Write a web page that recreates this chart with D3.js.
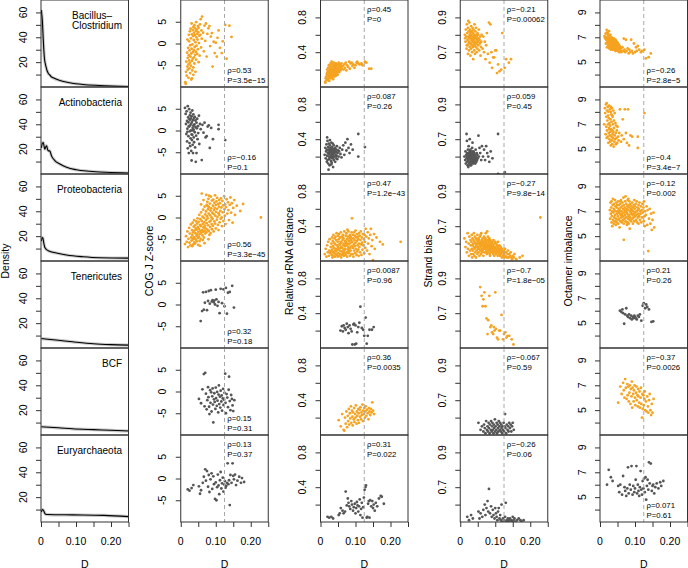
<!DOCTYPE html>
<html><head><meta charset="utf-8">
<script src="https://cdn.jsdelivr.net/npm/d3@7/dist/d3.min.js"></script>
<style>body{margin:0;background:#fff} text{font-family:"Liberation Sans",Arial,Helvetica,sans-serif;fill:#000}</style>
</head><body><svg id="c" width="688" height="568"></svg>
<script>
// ---------------- DATA ----------------
const groups = ["Bacillus–|Clostridium","Actinobacteria","Proteobacteria","Tenericutes","BCF","Euryarchaeota"];
const measures = ["COG J Z-score","Relative rRNA distance","Strand bias","Octamer imbalance"];
const dTicks = [0,0.05,0.10,0.15,0.20,0.25];
const dTickLabels = ["0","","0.10","","0.20",""];
const densityTicks = [10,20,30,40,50,60];
const densityTickLabels = ["","20","","40","","60"];
const measureDomains = [[-10,10],[0,1],[0.5,1.0],[3,10]];
const measureTicks = [[-5,0,5],[0.2,0.4,0.6,0.8],[0.6,0.7,0.8,0.9],[4,5,6,7,8,9]];
const measureTickLabels = [["-5","0","5"],["","0.4","","0.8"],["","0.7","","0.9"],["","5","","7","","9"]];
const dThreshold = 0.125;

// density of D per group: [D, density]
const densityBacillus = [[0.001,62],[0.002,59],[0.0037,54],[0.0065,38],[0.0093,24.6],[0.014,16.6],[0.021,10.8],[0.0255,9.6],[0.028,8.6],[0.035,7.4],[0.054,5.2],[0.082,3.4],[0.12,2.0],[0.167,1.2],[0.25,0.3]];
const densityActino = [[0.001,21],[0.003,24],[0.0065,25.4],[0.009,22],[0.011,20],[0.014,22],[0.016,22.6],[0.019,19.5],[0.021,18.6],[0.025,18.6],[0.030,14.6],[0.040,10.6],[0.054,8],[0.073,5.4],[0.101,3.4],[0.139,2.2],[0.186,1.4],[0.25,0.8]];
const densityProteo = [[0.001,16],[0.003,18.5],[0.005,18.8],[0.0076,15],[0.011,10.9],[0.021,8.2],[0.044,6.4],[0.073,4.8],[0.12,3.4],[0.167,2.6],[0.25,2.3]];
const densityTeneri = [[0.001,7.6],[0.05,6.2],[0.09,5],[0.15,3.4],[0.2,2.7],[0.25,2.3]];
const densityBCF = [[0.001,6.6],[0.05,5.8],[0.09,5.0],[0.15,4.3],[0.2,3.8],[0.25,3.2]];
const densityEury = [[0.001,8.0],[0.004,10.0],[0.007,9.4],[0.012,6.5],[0.02,6.0],[0.09,5.7],[0.18,5.3],[0.25,4.3]];

// genomes per group: [D, COG J Z-score, rRNA distance, strand bias, octamer imbalance]
const genomesBacillus = [
[0.013,-8.9,0.06,0.80,7.1],[0.015,-6.5,0.10,0.76,6.9],[0.016,-4.2,0.12,0.83,7.3],[0.017,-7.4,0.08,0.79,6.5],[0.018,-2.1,0.15,0.72,6.8],
[0.019,-5.3,0.20,0.86,7.0],[0.020,-3.3,0.13,0.74,6.2],[0.020,-6.0,0.17,0.81,7.4],[0.021,-1.0,0.09,0.77,6.6],[0.022,-4.8,0.22,0.69,6.9],
[0.022,-7.9,0.14,0.84,7.2],[0.023,-2.7,0.18,0.79,6.4],[0.024,0.5,0.11,0.75,6.7],[0.024,-3.9,0.25,0.82,7.0],[0.025,-5.7,0.16,0.71,6.3],
[0.025,-1.6,0.07,0.78,6.8],[0.026,2.8,0.19,0.87,7.5],[0.026,-4.4,0.13,0.76,6.1],[0.027,-6.8,0.21,0.80,6.6],[0.027,-0.4,0.15,0.73,7.1],
[0.028,3.4,0.24,0.83,6.9],[0.028,-3.0,0.10,0.78,6.5],[0.029,-5.1,0.18,0.68,6.8],[0.029,1.2,0.27,0.81,6.2],[0.030,-2.3,0.14,0.75,7.2],
[0.030,-8.3,0.20,0.79,6.4],[0.031,4.6,0.12,0.85,6.7],[0.031,-1.2,0.23,0.72,6.0],[0.032,-4.0,0.16,0.77,6.9],[0.032,2.1,0.29,0.80,6.3],
[0.033,-6.2,0.11,0.74,6.6],[0.033,-0.2,0.19,0.82,7.0],[0.034,3.1,0.15,0.70,6.5],[0.034,-3.5,0.26,0.78,6.1],[0.035,-2.0,0.13,0.84,6.8],
[0.035,1.7,0.21,0.76,6.4],[0.036,-5.5,0.17,0.79,6.7],[0.036,3.8,0.09,0.73,6.2],[0.037,-1.5,0.24,0.81,6.9],[0.037,0.8,0.18,0.66,6.0],
[0.038,-3.2,0.14,0.77,6.6],[0.038,2.5,0.28,0.83,6.3],[0.039,-4.6,0.20,0.75,6.8],[0.039,4.2,0.16,0.80,6.1],[0.040,-0.8,0.22,0.71,6.5],
[0.040,1.9,0.12,0.78,6.9],[0.041,-2.6,0.25,0.86,6.2],[0.041,3.5,0.19,0.74,6.7],[0.042,-6.5,0.15,0.79,6.4],[0.042,0.3,0.23,0.69,6.0],
[0.043,2.9,0.17,0.82,6.6],[0.043,-1.9,0.21,0.76,6.3],[0.044,4.9,0.27,0.80,6.8],[0.044,-3.7,0.13,0.73,5.9],[0.045,1.4,0.18,0.78,6.5],
[0.045,-0.5,0.24,0.84,6.2],[0.046,3.2,0.20,0.75,6.7],[0.047,-2.4,0.16,0.70,6.1],[0.047,2.2,0.26,0.79,6.4],[0.048,0.9,0.19,0.77,6.0],
[0.049,4.0,0.22,0.81,6.6],[0.049,-1.3,0.14,0.72,6.3],[0.050,2.6,0.25,0.76,5.9],[0.051,-4.3,0.18,0.80,6.5],[0.051,3.6,0.21,0.74,6.2],
[0.052,0.1,0.28,0.78,6.0],[0.053,1.8,0.17,0.83,6.4],[0.054,-2.8,0.23,0.71,6.1],[0.055,4.4,0.20,0.77,5.8],[0.056,2.0,0.26,0.75,6.3],
[0.057,5.6,0.19,0.79,6.0],[0.058,-0.9,0.24,0.68,6.2],[0.059,3.0,0.22,0.73,5.9],[0.060,1.1,0.27,0.76,6.1],[0.061,6.2,0.21,0.80,5.8],
[0.014,-9.3,0.05,0.78,7.0],[0.032,-8.0,0.12,0.82,6.6],[0.036,-7.2,0.15,0.77,6.4],[0.019,0.9,0.08,0.74,7.6],[0.023,2.0,0.11,0.88,7.3],
[0.064,2.5,0.24,0.72,6.2],[0.066,-1.8,0.20,0.79,5.9],[0.068,4.1,0.26,0.70,6.9],[0.070,0.6,0.22,0.76,6.0],[0.072,4.6,0.28,0.66,5.8],
[0.074,-3.0,0.19,0.74,6.8],[0.076,2.2,0.25,0.81,5.9],[0.079,3.5,0.23,0.69,6.1],[0.082,4.0,0.29,0.87,5.7],[0.084,-0.6,0.21,0.64,6.0],
[0.086,1.6,0.27,0.86,5.8],[0.089,2.4,0.28,0.70,6.8],[0.091,-5.3,0.24,0.61,5.9],[0.094,0.4,0.26,0.67,5.7],[0.097,-2.2,0.22,0.67,6.5],
[0.100,0.2,0.25,0.71,5.8],[0.103,-3.0,0.28,0.71,6.2],[0.105,1.3,0.29,0.58,5.9],[0.108,3.0,0.27,0.63,6.3],[0.112,-1.0,0.26,0.59,6.0],
[0.117,-2.2,0.27,0.60,5.8],[0.120,0.5,0.25,0.81,5.9],[0.127,4.3,0.29,0.61,6.0],[0.131,-3.5,0.28,0.66,5.3],[0.139,4.1,0.21,0.64,5.4],
[0.145,1.5,0.21,0.66,5.7]];

const genomesActino = [
[0.012,5.2,0.22,0.60,7.0],[0.014,3.8,0.30,0.58,8.3],[0.015,1.5,0.18,0.63,7.9],[0.016,-0.8,0.26,0.56,6.2],[0.017,4.4,0.34,0.61,8.6],
[0.018,2.2,0.14,0.59,7.6],[0.018,-2.5,0.28,0.73,6.8],[0.019,0.4,0.21,0.57,5.9],[0.020,5.6,0.38,0.62,8.1],[0.020,-4.1,0.16,0.60,6.5],
[0.021,3.0,0.24,0.55,7.3],[0.022,-1.3,0.31,0.64,8.4],[0.022,1.9,0.12,0.58,6.0],[0.023,-5.2,0.27,0.61,7.7],[0.024,4.9,0.20,0.59,5.5],
[0.024,0.9,0.35,0.66,8.0],[0.025,-2.9,0.23,0.56,6.3],[0.025,2.6,0.17,0.62,7.5],[0.026,-0.2,0.29,0.60,6.7],[0.026,3.5,0.10,0.57,8.5],
[0.027,-3.6,0.25,0.63,5.8],[0.027,1.2,0.33,0.59,7.1],[0.028,4.1,0.19,0.61,6.1],[0.028,-1.8,0.27,0.55,8.2],[0.029,0.0,0.22,0.64,6.9],
[0.029,2.8,0.30,0.58,5.6],[0.030,-4.7,0.15,0.60,7.4],[0.030,1.6,0.26,0.62,6.4],[0.031,3.3,0.36,0.57,8.0],[0.031,-0.9,0.20,0.59,5.3],
[0.032,-2.2,0.28,0.61,7.8],[0.032,2.0,0.13,0.56,6.6],[0.033,4.6,0.24,0.63,6.0],[0.033,-1.0,0.31,0.60,7.2],[0.034,0.6,0.18,0.58,5.7],
[0.034,-3.3,0.25,0.65,8.3],[0.035,2.4,0.21,0.57,6.5],[0.035,-5.2,0.29,0.59,5.4],[0.036,1.1,0.08,0.62,7.6],[0.036,3.7,0.23,0.60,6.2],
[0.037,-1.6,0.27,0.56,7.0],[0.037,0.2,0.19,0.61,5.9],[0.038,2.9,0.33,0.58,8.1],[0.038,-2.7,0.16,0.63,6.4],[0.039,1.4,0.24,0.59,5.2],
[0.040,-0.4,0.28,0.57,7.3],[0.040,3.1,0.20,0.62,6.7],[0.041,-3.9,0.26,0.60,5.6],[0.042,0.8,0.14,0.58,7.9],[0.042,2.3,0.30,0.61,6.1],
[0.043,-7.2,0.22,0.56,5.8],[0.044,-1.2,0.25,0.64,7.1],[0.045,1.8,0.18,0.59,6.3],[0.045,-5.2,0.28,0.60,5.4],[0.046,0.5,0.21,0.57,6.9],
[0.047,2.7,0.32,0.62,5.9],[0.048,-2.0,0.17,0.58,6.5],[0.049,1.0,0.24,0.61,5.5],[0.050,-0.6,0.27,0.59,6.8],[0.052,3.4,0.20,0.72,6.0],
[0.053,-3.1,0.26,0.60,5.7],[0.055,1.5,0.30,0.65,6.3],[0.057,0.3,0.23,0.62,8.2],[0.060,-6.8,0.19,0.58,5.6],[0.062,1.3,0.28,0.66,6.1],
[0.065,-0.5,0.33,0.60,7.4],[0.068,1.8,0.22,0.64,5.8],[0.071,-1.6,0.36,0.58,8.2],[0.074,-1.3,0.27,0.66,6.3],[0.077,0.9,0.40,0.62,5.5],
[0.080,1.2,0.30,0.60,8.2],[0.083,-4.0,0.24,0.57,5.3],[0.087,0.6,0.34,0.63,6.1],[0.092,-2.0,0.28,0.59,6.0],[0.108,1.3,0.46,0.73,6.0],
[0.108,0.3,0.20,0.50,5.1],[0.127,-2.2,0.31,0.51,7.9],[0.019,-0.3,0.42,0.69,8.7],[0.023,1.0,0.05,0.54,7.0],[0.027,2.5,0.39,0.70,6.6],
[0.031,-6.9,0.11,0.55,8.4],[0.035,0.0,0.35,0.68,7.7]];

const genomesProteo = [
[0.012,-6.1,0.08,0.63,null],[0.015,-4.3,0.14,0.58,null],[0.017,-5.6,0.05,0.61,null],[0.019,-3.2,0.18,0.55,null],[0.021,-6.8,0.10,0.66,null],
[0.022,-4.9,0.22,0.57,null],[0.024,-2.4,0.06,0.60,null],[0.025,-5.8,0.12,0.53,null],[0.026,-3.7,0.25,0.64,null],[0.028,-6.4,0.09,0.56,7.1],
[0.029,-1.6,0.16,0.62,6.4],[0.030,-4.6,0.11,0.59,7.7],
[0.031,-5.3,0.20,0.54,6.8],[0.032,-2.9,0.07,0.61,7.3],[0.033,-6.6,0.27,0.57,6.1],[0.033,-4.0,0.13,0.65,7.8],[0.034,-1.2,0.04,0.52,6.6],
[0.035,-5.0,0.17,0.59,7.0],[0.035,-3.4,0.23,0.63,5.8],[0.036,-6.2,0.10,0.56,7.5],[0.037,-2.1,0.30,0.60,6.3],[0.037,-4.5,0.06,0.54,8.0],
[0.038,-0.6,0.15,0.62,6.9],[0.039,-5.7,0.21,0.58,7.2],[0.039,-3.0,0.09,0.66,6.0],[0.040,-4.8,0.26,0.53,7.6],[0.041,-1.8,0.12,0.61,6.5],
[0.041,-6.0,0.05,0.57,7.1],[0.042,-3.6,0.19,0.64,6.2],[0.043,-2.5,0.28,0.55,7.9],[0.043,-5.1,0.08,0.60,6.7],[0.044,-0.9,0.14,0.58,7.4],
[0.045,-4.2,0.24,0.63,5.9],[0.045,-2.8,0.11,0.52,7.0],[0.046,-5.5,0.32,0.59,6.4],[0.047,-1.4,0.07,0.56,7.7],[0.047,-3.9,0.18,0.62,6.1],
[0.048,-0.2,0.13,0.60,7.3],[0.049,-4.7,0.22,0.54,6.8],[0.049,-2.2,0.05,0.65,7.5],[0.050,-3.3,0.16,0.57,6.3],[0.050,-6.3,0.29,0.61,7.0],
[0.051,-1.0,0.09,0.58,6.6],[0.052,-4.4,0.25,0.63,7.8],[0.052,-2.6,0.14,0.55,6.0],[0.053,0.6,0.31,0.60,7.2],[0.054,-3.8,0.06,0.57,6.9],
[0.054,-5.4,0.19,0.62,7.5],[0.055,-1.7,0.12,0.53,6.4],[0.056,-0.4,0.27,0.59,7.1],[0.056,-3.1,0.08,0.64,5.7],[0.057,-4.9,0.22,0.56,6.8],
[0.058,1.2,0.16,0.61,7.6],[0.058,-2.0,0.33,0.58,6.2],[0.059,-3.5,0.04,0.54,7.3],[0.060,5.5,0.21,0.66,6.7],[0.060,-0.8,0.11,0.60,7.9],
[0.061,-2.9,0.28,0.57,6.5],[0.062,-4.1,0.15,0.62,7.0],[0.062,0.2,0.07,0.55,6.1],[0.063,-1.5,0.24,0.59,7.4],[0.064,-3.3,0.18,0.63,6.8],
[0.064,1.8,0.30,0.56,7.7],[0.065,-2.3,0.10,0.60,6.3],[0.066,-0.1,0.13,0.58,7.2],[0.066,-4.6,0.26,0.53,6.6],[0.067,-1.1,0.06,0.61,8.1],
[0.068,-3.0,0.20,0.57,6.0],[0.068,2.5,0.34,0.64,7.5],[0.069,-1.9,0.09,0.55,6.9],[0.070,0.7,0.17,0.59,7.1],[0.070,-3.7,0.23,0.62,6.4],
[0.068,-5.9,0.12,0.58,4.7],[0.055,-6.5,0.19,0.60,7.0],[0.063,-5.2,0.27,0.56,6.2],[0.058,3.0,0.15,0.65,7.8],[0.065,4.0,0.08,0.61,6.6],
[0.071,-2.5,0.14,0.57,7.3],[0.072,1.4,0.29,0.60,6.7],[0.072,-0.6,0.07,0.63,7.8],[0.073,-3.4,0.22,0.55,6.2],[0.074,2.9,0.18,0.58,7.0],
[0.074,-1.3,0.32,0.61,6.5],[0.075,0.3,0.10,0.56,7.6],[0.076,-2.8,0.25,0.59,6.9],[0.076,3.6,0.05,0.54,7.2],[0.077,-0.2,0.20,0.62,6.1],
[0.078,1.9,0.13,0.57,7.4],[0.078,-1.8,0.28,0.60,6.8],[0.079,4.3,0.16,0.64,7.9],[0.080,-3.1,0.09,0.55,6.4],[0.080,0.9,0.34,0.58,7.1],
[0.081,2.4,0.23,0.61,6.6],[0.082,-1.0,0.11,0.56,7.5],[0.082,-4.0,0.19,0.59,6.0],[0.083,3.2,0.26,0.63,7.3],[0.084,0.5,0.06,0.57,6.7],
[0.084,-2.2,0.30,0.54,7.8],[0.085,1.6,0.15,0.60,6.3],[0.086,4.8,0.21,0.58,7.0],[0.086,-0.7,0.12,0.62,6.5],[0.087,2.1,0.27,0.55,7.6],
[0.088,-1.5,0.08,0.59,6.9],[0.088,0.0,0.24,0.57,7.2],[0.089,3.9,0.17,0.61,6.2],[0.089,-2.7,0.33,0.56,7.4],[0.090,1.1,0.49,0.60,6.8],
[0.073,5.2,0.20,0.66,8.2],[0.079,-5.0,0.10,0.58,6.1],[0.085,-3.6,0.28,0.53,5.6],[0.081,5.0,0.14,0.62,8.0],[0.077,2.6,0.36,0.67,5.9],
[0.091,-0.3,0.22,0.58,7.1],[0.092,2.7,0.08,0.55,6.4],[0.092,-1.9,0.30,0.61,7.7],[0.093,4.1,0.15,0.57,6.7],[0.094,0.8,0.26,0.54,7.3],
[0.094,-3.2,0.05,0.59,6.0],[0.095,1.7,0.19,0.62,7.0],[0.096,3.4,0.33,0.56,6.5],[0.096,-0.9,0.12,0.58,7.5],[0.097,2.2,0.24,0.53,6.8],
[0.098,5.1,0.17,0.60,7.9],[0.098,-1.4,0.29,0.57,6.2],[0.099,0.4,0.09,0.55,7.2],[0.100,2.9,0.21,0.61,6.6],[0.100,-2.5,0.35,0.56,7.4],
[0.101,1.3,0.14,0.58,6.9],[0.102,3.7,0.27,0.54,7.6],[0.103,-0.5,0.07,0.60,6.3],[0.104,2.0,0.23,0.57,7.0],[0.104,4.5,0.31,0.55,6.7],
[0.105,0.1,0.11,0.59,7.8],[0.106,-1.7,0.18,0.56,6.1],[0.107,3.1,0.28,0.53,7.3],[0.108,1.0,0.13,0.58,6.5],[0.108,-2.9,0.25,0.61,7.1],
[0.109,2.5,0.06,0.55,6.8],[0.110,4.0,0.20,0.57,7.5],[0.110,0.6,0.32,0.54,6.0],
[0.111,-1.1,0.16,0.56,7.2],[0.112,3.3,0.29,0.59,6.6],[0.113,1.5,0.10,0.53,7.7],[0.114,-0.3,0.24,0.57,6.3],[0.115,4.4,0.34,0.55,7.0],
[0.116,2.3,0.19,0.58,6.8],[0.117,0.0,0.07,0.54,7.4],[0.118,-2.0,0.27,0.56,6.1],[0.119,3.8,0.21,0.52,7.1],[0.120,1.2,0.13,0.57,6.5],
[0.121,2.8,0.31,0.55,7.6],[0.122,-0.8,0.18,0.53,6.9],[0.124,4.9,0.25,0.56,7.3],[0.125,1.9,0.09,0.54,6.2],[0.126,0.4,0.30,0.52,7.8],
[0.127,3.0,0.22,0.55,6.6],[0.128,-1.5,0.15,0.57,5.8],[0.129,2.4,0.37,0.53,7.0],
[0.131,4.2,0.28,0.55,6.7],[0.133,0.9,0.12,0.52,7.4],[0.135,3.5,0.33,0.54,5.9],[0.136,1.7,0.20,0.56,7.1],[0.138,-0.6,0.26,0.52,3.8],
[0.140,2.9,0.08,0.54,6.4],[0.142,4.6,0.30,0.53,7.2],[0.144,1.1,0.37,0.55,6.0],[0.146,3.3,0.17,0.52,6.8],[0.148,-1.2,0.24,0.51,5.5],
[0.150,2.2,0.01,0.53,6.3],[0.153,4.0,0.31,0.52,6.9],[0.155,0.6,0.14,0.54,5.7],[0.160,2.7,0.27,0.51,null],[0.170,1.5,0.22,0.52,null],
[0.178,3.1,0.19,0.53,null],[0.229,0.0,0.22,0.75,null]];

const genomesTeneri = [
[0.057,-3.8,0.20,0.85,6.0],[0.061,-1.5,0.25,0.80,5.9],[0.064,2.8,0.19,0.74,6.1],[0.066,-1.2,0.26,0.78,5.8],[0.069,0.4,0.23,0.82,4.95],
[0.072,2.9,0.21,0.74,5.7],[0.075,-1.3,0.28,0.67,6.2],[0.078,0.8,0.24,0.58,5.6],[0.080,3.1,0.17,0.66,5.5],[0.083,0.2,0.26,0.80,5.7],
[0.086,3.3,0.22,0.62,5.4],[0.089,0.7,0.19,0.63,5.6],[0.091,1.0,0.04,0.59,5.3],[0.094,0.5,0.27,0.58,5.5],[0.096,0.9,0.28,0.62,5.4],
[0.098,0.0,0.04,0.60,5.6],[0.100,3.4,0.26,0.82,5.5],[0.102,1.2,0.05,0.61,5.4],[0.105,-0.3,0.18,0.56,5.3],[0.108,0.6,0.24,0.55,5.6],
[0.111,-2.0,0.29,0.60,5.5],[0.114,3.6,0.475,0.60,5.7],[0.118,0.3,0.23,0.69,5.2],[0.122,3.5,0.21,0.55,6.4],[0.125,-0.4,0.14,0.58,6.6],
[0.129,3.8,0.35,0.59,6.2],[0.132,-2.1,0.05,0.56,6.5],[0.135,2.7,0.14,0.57,6.3],[0.140,2.9,0.21,0.57,6.1],[0.147,4.3,0.21,0.55,5.1],
[0.152,-0.7,0.24,0.52,5.15]];

const genomesBCF = [
[0.052,-1.7,0.17,0.57,5.6],[0.058,-2.7,0.10,0.53,6.9],[0.062,0.5,0.24,0.55,6.3],[0.066,4.0,0.06,0.52,7.2],[0.068,-3.4,0.05,0.56,6.6],
[0.070,4.3,0.20,0.54,6.0],[0.072,-0.5,0.13,0.51,7.5],[0.074,-4.1,0.27,0.58,6.8],[0.076,-2.0,0.09,0.53,5.9],[0.078,1.0,0.22,0.55,7.1],
[0.079,-1.3,0.16,0.52,6.2],[0.081,-3.5,0.30,0.57,6.9],[0.082,-5.2,0.12,0.54,5.7],[0.084,0.3,0.25,0.51,6.4],[0.085,-2.6,0.19,0.56,7.0],
[0.087,-0.2,0.33,0.53,5.5],[0.088,-4.6,0.14,0.58,6.7],[0.090,-1.1,0.28,0.52,6.1],[0.091,0.7,0.21,0.55,7.3],[0.092,-3.0,0.11,0.57,5.2],
[0.093,-7.1,0.26,0.53,6.8],[0.095,-1.8,0.18,0.51,6.3],[0.096,-0.4,0.31,0.56,5.7],[0.097,-2.4,0.15,0.54,6.6],[0.099,-4.0,0.24,0.59,7.0],
[0.100,0.9,0.20,0.52,6.0],[0.101,-1.5,0.34,0.55,5.4],[0.103,-3.3,0.13,0.53,6.4],[0.104,-0.1,0.27,0.57,6.9],[0.105,-2.1,0.22,0.51,5.8],
[0.107,-4.8,0.17,0.56,6.2],[0.108,-0.7,0.30,0.54,5.3],[0.109,1.4,0.25,0.52,6.7],[0.110,-2.9,0.14,0.58,6.1],[0.112,-1.2,0.29,0.55,5.6],
[0.113,-3.7,0.21,0.53,6.5],[0.114,0.2,0.32,0.57,5.2],[0.116,-2.3,0.18,0.52,6.0],[0.117,-0.9,0.26,0.56,6.8],[0.118,-4.4,0.23,0.54,5.5],
[0.120,-1.6,0.35,0.51,4.4],[0.121,0.6,0.16,0.55,6.3],[0.122,-3.1,0.28,0.53,5.1],[0.124,-1.9,0.24,0.57,6.2],[0.125,-0.3,0.31,0.52,5.4],
[0.127,4.1,0.20,0.55,5.9],[0.128,-2.6,0.27,0.62,6.5],[0.129,-5.0,0.33,0.54,5.0],[0.131,-0.6,0.22,0.51,5.7],[0.133,-1.4,0.29,0.56,4.9],
[0.135,-3.6,0.25,0.53,6.1],[0.137,0.4,0.18,0.55,5.3],[0.138,3.4,0.31,0.52,4.8],[0.140,-2.2,0.27,0.57,5.8],[0.142,-4.3,0.23,0.54,6.3],
[0.144,-0.8,0.30,0.56,5.0],[0.146,-1.7,0.26,0.52,4.6],[0.148,-3.2,0.376,0.55,5.5],[0.150,-4.5,0.28,0.57,4.8],[0.153,-2.0,0.24,0.53,5.9]];

const genomesEury = [
[0.020,-2.5,0.06,0.53,6.0],[0.025,-2.8,0.05,0.51,7.2],[0.031,-2.2,0.06,0.54,6.6],[0.036,-1.5,0.04,0.52,6.3],[0.052,-1.8,0.08,0.56,5.9],
[0.055,-3.5,0.10,0.52,5.4],[0.058,-2.7,0.16,0.55,6.0],[0.063,-1.0,0.13,0.53,5.2],[0.066,0.4,0.10,0.57,6.7],[0.070,2.1,0.12,0.60,5.8],
[0.072,-0.5,0.35,0.54,5.5],[0.075,1.7,0.19,0.58,5.1],[0.078,-1.9,0.27,0.62,5.7],[0.080,0.8,0.22,0.56,7.4],[0.082,-3.1,0.18,0.69,5.3],
[0.085,-0.2,0.15,0.55,6.0],[0.088,1.2,0.24,0.59,5.6],[0.090,-2.4,0.20,0.53,7.5],[0.093,0.5,0.13,0.57,5.2],[0.095,-1.3,0.17,0.54,5.9],
[0.098,-4.7,0.21,0.52,5.4],[0.100,-0.9,0.10,0.58,5.7],[0.102,-5.0,0.16,0.55,6.4],[0.104,-2.0,0.23,0.53,7.5],[0.106,0.9,0.19,0.51,5.3],
[0.108,-1.6,0.12,0.56,6.0],[0.110,-3.6,0.18,0.58,5.5],[0.112,-0.4,0.26,0.52,5.1],[0.114,1.5,0.08,0.54,5.8],[0.116,-2.3,0.15,0.51,7.1],
[0.118,-1.1,0.22,0.60,5.6],[0.120,0.2,0.05,0.50,5.2],[0.122,-3.0,0.17,0.52,6.3],[0.124,-1.4,0.28,0.50,5.7],[0.126,-0.6,0.37,0.51,6.5],
[0.128,-2.1,0.40,0.53,5.4],[0.130,-1.7,0.42,0.61,6.6],[0.132,-1.0,0.05,0.50,4.8],[0.134,3.5,0.06,0.51,5.9],[0.136,-1.3,0.21,0.52,6.4],
[0.138,-0.4,0.24,0.50,5.6],[0.140,-6.1,0.05,0.51,7.8],[0.142,0.8,0.25,0.52,6.1],[0.145,-1.0,0.18,0.51,7.7],[0.148,3.5,0.24,0.50,5.5],
[0.150,0.6,0.16,0.53,5.9],[0.152,-0.2,0.20,0.51,6.0],[0.155,0.9,0.13,0.52,5.3],[0.158,-1.5,0.22,0.50,5.8],[0.162,-0.5,0.18,0.51,6.1],
[0.167,0.4,0.27,0.52,5.7],[0.172,-1.0,0.30,0.51,6.2],[0.175,0.1,0.29,0.50,5.9],[0.181,-0.8,0.21,0.51,6.3]];

// Spearman rho and P per group (rows) and measure (columns)
const rhoValues = [[0.53,0.45,-0.21,-0.26],[-0.16,0.087,0.059,-0.4],[0.56,0.47,-0.27,-0.12],[0.32,0.0087,-0.7,0.21],[0.15,0.36,-0.067,-0.37],[0.13,0.31,-0.26,0.071]];
const pValues = [["3.5e-15","0","0.00062","2.8e-5"],["0.1","0.26","0.45","3.4e-7"],["3.3e-45","1.2e-43","9.8e-14","0.002"],["0.18","0.96","1.8e-05","0.26"],["0.31","0.0035","0.59","0.0026"],["0.37","0.022","0.06","0.61"]];

const densities = [densityBacillus,densityActino,densityProteo,densityTeneri,densityBCF,densityEury];
const genomes = [genomesBacillus,genomesActino,genomesProteo,genomesTeneri,genomesBCF,genomesEury];

// ---------------- LAYOUT ----------------
const svg = d3.select("#c");
const colX0 = 41, colStep = 139.75, panelW = 87.5, rowH = 87, rowY0 = 0;
const annotCorner = [["b","t","t","b"],["b","t","t","b"],["b","t","t","t"],["b","t","t","t"],["b","t","t","t"],["t","t","t","b"]];
const ORANGE = "#F5A320", GREY = "#565656";
const fmt = s => String(s).replace("-", "\u2212");

const defs = svg.append("defs");

for (let c = 0; c < 5; c++) {
  const x0 = colX0 + c*colStep;
  const x = d3.scaleLinear().domain([0,0.25]).range([x0, x0+panelW]);
  for (let r = 0; r < 6; r++) {
    const y0 = rowY0 + r*rowH, y1 = y0 + rowH;
    const g = svg.append("g");
    const clipId = `clip${c}_${r}`;
    defs.append("clipPath").attr("id", clipId).append("rect")
      .attr("x", x0).attr("y", y0).attr("width", panelW).attr("height", rowH);
    const inner = g.append("g").attr("clip-path", `url(#${clipId})`);
    let y;
    if (c === 0) {
      y = d3.scaleLinear().domain([0,70]).range([y1, y0]);
      const line = d3.line().x(d => x(d[0])).y(d => y(d[1])).curve(d3.curveMonotoneX);
      inner.append("path").datum(densities[r]).attr("d", line)
        .attr("fill","none").attr("stroke","#c9c9c9").attr("stroke-width",3.2);
      inner.append("path").datum(densities[r]).attr("d", line)
        .attr("fill","none").attr("stroke","#000").attr("stroke-width",1.1);
      const ax = d3.axisLeft(y).tickValues(densityTicks).tickSize(5).tickFormat("");
      const ag = g.append("g").attr("transform",`translate(${x0},0)`).call(ax);
      ag.select(".domain").remove();
      ag.selectAll("line").attr("stroke","#333");
      densityTicks.forEach((t,i) => {
        if (!densityTickLabels[i]) return;
        g.append("text").attr("transform",`translate(${x0-18.5},${y(t)}) rotate(-90)`)
          .attr("text-anchor","middle").attr("dominant-baseline","central")
          .attr("font-size",10.5).text(densityTickLabels[i]);
      });
      const lines = groups[r].split("|");
      const lt = g.append("text").attr("font-size",10).attr("dominant-baseline","central");
      lines.forEach((s,i) => lt.append("tspan").attr("x",0).attr("y", y0 + 14.5 + i*10.7).text(s));
      const w = d3.max(lt.selectAll("tspan").nodes(), n => n.getComputedTextLength());
      lt.selectAll("tspan").attr("x", x0 + 81 - w);
    } else {
      const m = c - 1;
      y = d3.scaleLinear().domain(measureDomains[m]).range([y1, y0]);
      const p = parseFloat(pValues[r][m]);
      const col = p < 0.01 ? ORANGE : GREY;
      inner.selectAll("circle").data(genomes[r].filter(d => d[c] !== null)).enter().append("circle")
        .attr("cx", d => x(d[0])).attr("cy", d => y(d[c])).attr("r", 1.4).attr("fill", col);
      const ax = d3.axisLeft(y).tickValues(measureTicks[m]).tickSize(5).tickFormat("");
      const ag = g.append("g").attr("transform",`translate(${x0},0)`).call(ax);
      ag.select(".domain").remove();
      ag.selectAll("line").attr("stroke","#333");
      measureTicks[m].forEach((t,i) => {
        const lab = measureTickLabels[m][i];
        if (!lab) return;
        g.append("text").attr("transform",`translate(${x0-18.5},${y(t)}) rotate(-90)`)
          .attr("text-anchor","middle").attr("dominant-baseline","central")
          .attr("font-size",10.5).text(lab);
      });
      g.append("line").attr("x1", x(dThreshold)).attr("x2", x(dThreshold)).attr("y1", y0).attr("y2", y1)
        .attr("stroke","#a8a8a8").attr("stroke-width",1).attr("stroke-dasharray","4,3");
      const top = annotCorner[r][m] === "t";
      const ya = top ? [y0+9.5, y0+19.2] : [y1-16.3, y1-6.5];
      const rhoTxt = "\u03c1=" + fmt(rhoValues[r][m]);
      const pTxt = "P=" + fmt(pValues[r][m]);
      [rhoTxt, pTxt].forEach((s,i) => g.append("text").attr("x", x(dThreshold)+2.8).attr("y", ya[i])
        .attr("dominant-baseline","central").attr("font-size",7.8).text(s));
    }
    g.append("rect").attr("x",x0).attr("y",y0).attr("width",panelW).attr("height",rowH)
      .attr("fill","none").attr("stroke","#333").attr("stroke-width",1);
  }
  const yb = rowY0 + 6*rowH;
  const axb = d3.axisBottom(x).tickValues(dTicks).tickSize(5).tickFormat("");
  const agb = svg.append("g").attr("transform",`translate(0,${yb})`).call(axb);
  agb.select(".domain").remove();
  agb.selectAll("line").attr("stroke","#333");
  dTicks.forEach((t,i) => {
    if (!dTickLabels[i]) return;
    svg.append("text").attr("x", x(t)).attr("y", 540.7).attr("text-anchor","middle")
      .attr("dominant-baseline","central").attr("font-size",10.5).text(dTickLabels[i]);
  });
  svg.append("text").attr("x", x0 + panelW/2).attr("y", 563.5).attr("text-anchor","middle")
    .attr("dominant-baseline","central").attr("font-size",10.5).text("D");
  const title = c === 0 ? "Density" : measures[c-1];
  const tx = c === 0 ? 5 : x0 - 32;
  svg.append("text").attr("transform",`translate(${tx},261) rotate(-90)`)
    .attr("text-anchor","middle").attr("dominant-baseline","central").attr("font-size",10.5).text(title);
}
</script></body></html>
